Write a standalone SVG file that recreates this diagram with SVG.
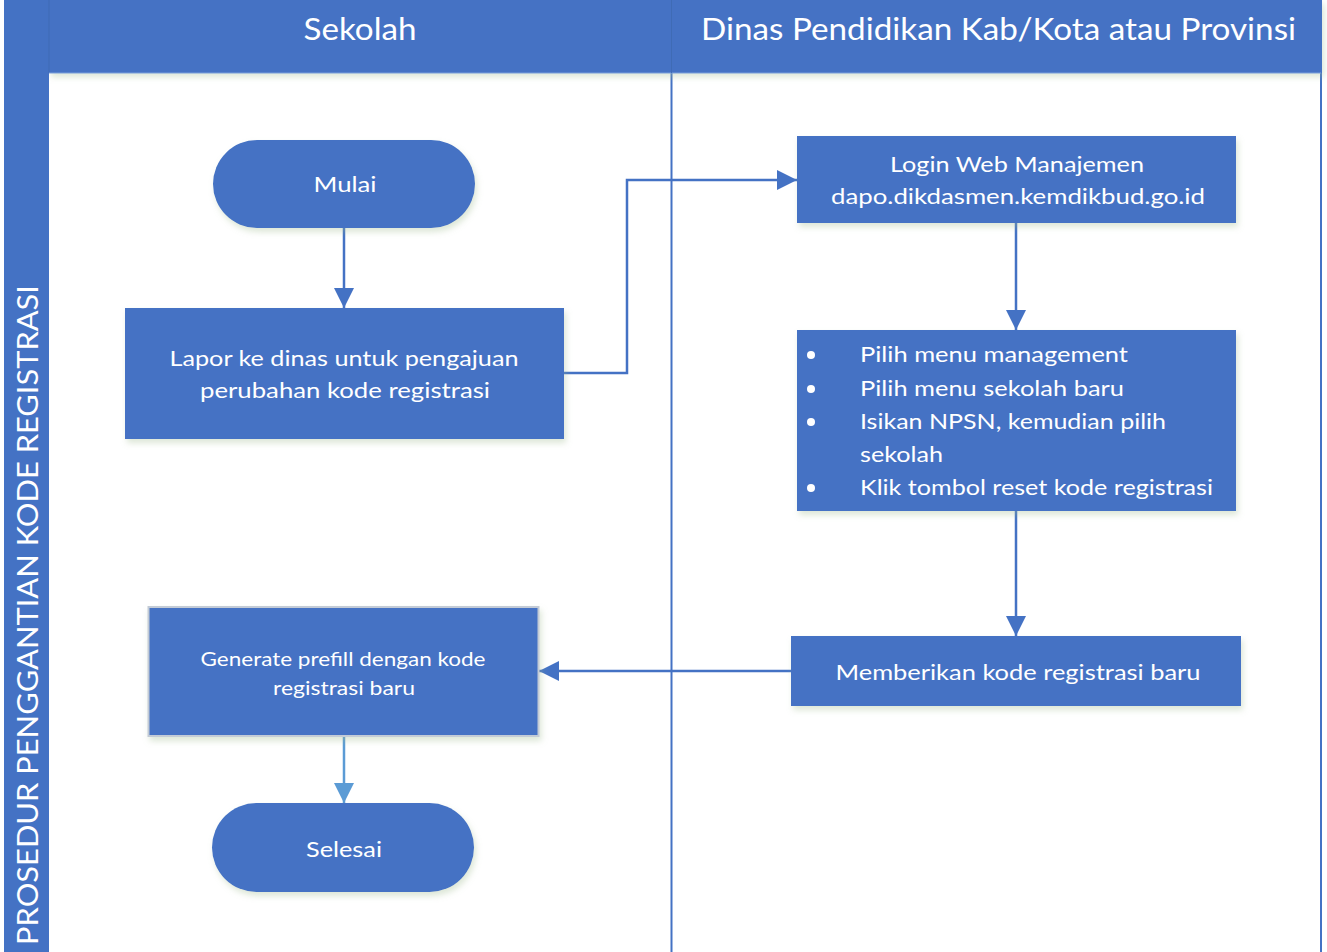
<svg xmlns="http://www.w3.org/2000/svg" width="1327" height="952" viewBox="0 0 1327 952">
  <defs>
    <filter id="shadow" x="-10%" y="-10%" width="125%" height="140%">
      <feDropShadow dx="2" dy="4" stdDeviation="3" flood-color="#9ab88a" flood-opacity="0.35"/>
    </filter>
    <marker id="arrow" markerWidth="20" markerHeight="20" refX="20" refY="10" orient="auto" markerUnits="userSpaceOnUse" viewBox="0 0 20 20">
      <path d="M0,0 L20,10 L0,20 Z" fill="#4472C4"/>
    </marker>
    <marker id="arrowLight" markerWidth="20" markerHeight="20" refX="20" refY="10" orient="auto" markerUnits="userSpaceOnUse" viewBox="0 0 20 20">
      <path d="M0,0 L20,10 L0,20 Z" fill="#5B9BD5"/>
    </marker>
    <style>
      .band { fill: #4472C4; }
      .node { fill: #4472C4; filter: url(#shadow); }
      .lbl { font-family: Lato, "Open Sans", "Liberation Sans", sans-serif; fill: #ffffff; }
      .head { font-size: 31px; text-anchor: middle; }
      .txt { font-size: 22px; text-anchor: middle; }
      .lst { font-size: 22px; }
      .conn { fill: none; stroke: #4472C4; stroke-width: 2.5; }
    </style>
  </defs>

  <rect x="0" y="0" width="1327" height="952" fill="#ffffff"/>

  <!-- pool frame -->
  <g id="pool">
    <rect x="49" y="73" width="1272" height="879" fill="#ffffff"/>
    <line x1="671.5" y1="73" x2="671.5" y2="952" stroke="#4472C4" stroke-width="2"/>
    <line x1="1321" y1="0" x2="1321" y2="952" stroke="#4472C4" stroke-width="2"/>
    <rect class="band" x="49" y="0" width="1273" height="73" filter="url(#shadow)"/>
    <rect class="band" x="4" y="0" width="45" height="952"/>
    <line x1="49" y1="0" x2="49" y2="73" stroke="#3f6bb5" stroke-width="1"/>
    <line x1="49" y1="73" x2="1321" y2="73" stroke="#7a9fdc" stroke-width="1"/>
    <line x1="671.5" y1="0" x2="671.5" y2="73" stroke="#3f6bb5" stroke-width="1"/>
    <text class="lbl head" x="360" y="40" textLength="113" lengthAdjust="spacingAndGlyphs">Sekolah</text>
    <text class="lbl head" x="998.5" y="40" textLength="595" lengthAdjust="spacingAndGlyphs">Dinas Pendidikan Kab/Kota atau Provinsi</text>
    <text class="lbl" font-size="29" text-anchor="middle" transform="translate(38 615) rotate(-90)" textLength="660" lengthAdjust="spacingAndGlyphs">PROSEDUR PENGGANTIAN KODE REGISTRASI</text>
  </g>

  <!-- connectors -->
  <g id="connectors">
    <path class="conn" d="M344 228 L344 308" marker-end="url(#arrow)"/>
    <path class="conn" d="M564 373 L627 373 L627 180 L797 180" marker-end="url(#arrow)"/>
    <path class="conn" d="M1016 223 L1016 330" marker-end="url(#arrow)"/>
    <path class="conn" d="M1016 511 L1016 636" marker-end="url(#arrow)"/>
    <path class="conn" d="M791 671 L539 671" marker-end="url(#arrow)"/>
    <path class="conn" d="M344 736 L344 803" marker-end="url(#arrowLight)" style="stroke:#5B9BD5"/>
  </g>

  <!-- Mulai -->
  <g id="mulai">
    <rect class="node" x="213" y="140" width="262" height="88" rx="44" ry="44"/>
    <text class="lbl txt" x="345" y="192" textLength="63" lengthAdjust="spacingAndGlyphs">Mulai</text>
  </g>

  <!-- Lapor ke dinas -->
  <g id="lapor">
    <rect class="node" x="125" y="308" width="439" height="131"/>
    <text class="lbl txt" x="344" y="366" textLength="349" lengthAdjust="spacingAndGlyphs">Lapor ke dinas untuk pengajuan</text>
    <text class="lbl txt" x="345" y="398" textLength="290" lengthAdjust="spacingAndGlyphs">perubahan kode registrasi</text>
  </g>

  <!-- Login Web Manajemen -->
  <g id="login">
    <rect class="node" x="797" y="136" width="439" height="87"/>
    <text class="lbl txt" x="1017" y="172" textLength="254" lengthAdjust="spacingAndGlyphs">Login Web Manajemen</text>
    <text class="lbl txt" x="1018" y="204" textLength="374" lengthAdjust="spacingAndGlyphs">dapo.dikdasmen.kemdikbud.go.id</text>
  </g>

  <!-- Steps list -->
  <g id="langkah">
    <rect class="node" x="797" y="330" width="439" height="181"/>
    <g fill="#ffffff">
      <circle cx="811" cy="355" r="4"/>
      <circle cx="811" cy="389" r="4"/>
      <circle cx="811" cy="422" r="4"/>
      <circle cx="811" cy="488" r="4"/>
    </g>
    <text class="lbl lst" x="860" y="362" textLength="268" lengthAdjust="spacingAndGlyphs">Pilih menu management</text>
    <text class="lbl lst" x="860" y="396" textLength="264" lengthAdjust="spacingAndGlyphs">Pilih menu sekolah baru</text>
    <text class="lbl lst" x="860" y="429" textLength="306" lengthAdjust="spacingAndGlyphs">Isikan NPSN, kemudian pilih</text>
    <text class="lbl lst" x="860" y="462" textLength="83" lengthAdjust="spacingAndGlyphs">sekolah</text>
    <text class="lbl lst" x="860" y="495" textLength="353" lengthAdjust="spacingAndGlyphs">Klik tombol reset kode registrasi</text>
  </g>

  <!-- Memberikan kode registrasi baru -->
  <g id="memberikan">
    <rect class="node" x="791" y="636" width="450" height="70"/>
    <text class="lbl txt" x="1018" y="680" textLength="365" lengthAdjust="spacingAndGlyphs">Memberikan kode registrasi baru</text>
  </g>

  <!-- Generate prefill -->
  <g id="generate">
    <rect class="node" x="148.5" y="607" width="390" height="129" stroke="#c3cbd6" stroke-width="2"/>
    <text class="lbl" font-size="20" text-anchor="middle" x="343" y="666" textLength="285" lengthAdjust="spacingAndGlyphs">Generate prefill dengan kode</text>
    <text class="lbl" font-size="20" text-anchor="middle" x="344" y="695" textLength="142" lengthAdjust="spacingAndGlyphs">registrasi baru</text>
  </g>

  <!-- Selesai -->
  <g id="selesai">
    <rect class="node" x="212" y="803" width="262" height="89" rx="44.5" ry="44.5"/>
    <text class="lbl txt" x="344" y="857" textLength="76" lengthAdjust="spacingAndGlyphs">Selesai</text>
  </g>
</svg>
